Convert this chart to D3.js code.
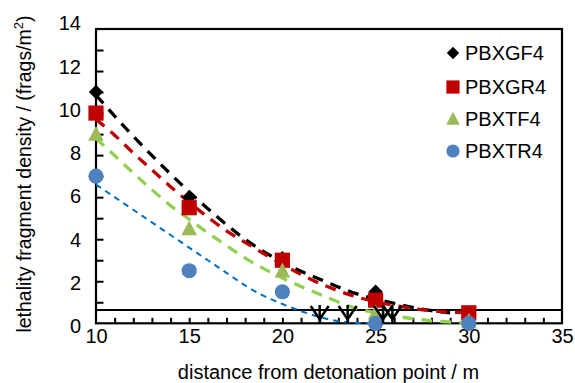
<!DOCTYPE html>
<html>
<head>
<meta charset="utf-8">
<script src="https://cdn.jsdelivr.net/npm/d3@7"></script>
<style>
  html, body { margin: 0; padding: 0; background: #fff; }
  svg { display: block; }
  text { font-family: "Liberation Sans", Arial, sans-serif; fill: #000; }
</style>
</head>
<body>
<svg id="chart" width="575" height="383"></svg>
<script>
// ---------- data ----------
const distances = [10, 15, 20, 25, 30];
const seriesNames = ["PBXGF4", "PBXGR4", "PBXTF4", "PBXTR4"];
const valuesGF4 = [11, 6, 3.1, 1.5, 0.5];
const valuesGR4 = [10, 5.5, 3.0, 1.1, 0.5];
const valuesTF4 = [9, 4.5, 2.5, 0.5, 0.1];
const valuesTR4 = [7, 2.5, 1.5, 0, 0];

// fitted trend curves [distance, density]
const fitGF4 = [[10,10.85],[12,8.9],[14,7.1],[16,5.45],[18,4.0],[20,2.9],[22,2.1],[24,1.4],[26,0.95],[28,0.6],[29,0.5]];
const fitGR4 = [[10,9.7],[11,8.95],[12,8.1],[13,7.3],[14,6.5],[15,5.75],[16,5.05],[17,4.4],[18,3.85],[20,2.8],[22,1.9],[24,1.25],[26,0.85],[28,0.6],[30,0.5]];
const fitTF4 = [[10,8.8],[11,7.98],[12,7.15],[13,6.35],[14,5.6],[15,4.95],[16,4.3],[17,3.7],[18,3.1],[19,2.6],[20,2.15],[22,1.38],[24,0.7],[26,0.35],[28,0.12],[30,0.02]];
const fitTR4 = [[10,6.6],[11,6.0],[12,5.4],[13,4.8],[14,4.2],[15,3.6],[16,3.0],[17,2.4],[18,1.8],[19,1.3],[20,0.92],[21,0.58],[22,0.3],[23,0.1],[24,0.02],[24.6,0]];

const thresholdDensity = 0.63;
const arrowDistances = [22, 23.5, 25.4, 25.9];

const xTicks = [10, 15, 20, 25, 30, 35];
const yTicks = [0, 2, 4, 6, 8, 10, 12, 14];

// ---------- layout ----------
const svg = d3.select("#chart");
const L = 96, R = 562, T = 29, B = 323.3;
const x = d3.scaleLinear().domain([10, 35]).range([L, R]);
const y = d3.scaleLinear().domain([0, 14]).range([B, T]);
// tick labels in the reference sit on a slightly wider spacing than the ticks
const yLabel = y.copy().range([B + 2.8, T - 5.6]);

const markerColor = ["#000000", "#C00000", "#9BBB59", "#4F81BD"];
const lineColor = ["#000000", "#C00000", "#92D050", "#0070C0"];
const series = [valuesGF4, valuesGR4, valuesTF4, valuesTR4];
const fits = [fitGF4, fitGR4, fitTF4, fitTR4];
const shapes = ["diamond", "square", "triangle", "circle"];

function shapePath(shape, s) {
  const p = d3.path();
  if (shape === "diamond") {
    p.moveTo(0, -s); p.lineTo(s, 0); p.lineTo(0, s); p.lineTo(-s, 0); p.closePath();
  } else if (shape === "square") {
    p.rect(-s, -s, 2 * s, 2 * s);
  } else if (shape === "triangle") {
    p.moveTo(0, -s * 1.05); p.lineTo(s, s * 0.85); p.lineTo(-s, s * 0.85); p.closePath();
  } else {
    p.arc(0, 0, s, 0, 2 * Math.PI);
  }
  return p.toString();
}
const markerSize = [7.2, 7.6, 7.8, 7.6];

// ---------- axes ----------
// inner minor ticks
svg.append("g")
  .attr("transform", `translate(0,${B})`)
  .call(d3.axisBottom(x).tickValues(d3.range(11, 35, 1)).tickSize(-5.5).tickFormat(""))
  .call(g => g.select(".domain").remove())
  .call(g => g.selectAll("line").attr("stroke", "#000").attr("stroke-width", 2));
svg.append("g")
  .attr("transform", `translate(${L},0)`)
  .call(d3.axisLeft(y).tickValues(d3.range(1, 14, 1)).tickSize(-7.5).tickFormat(""))
  .call(g => g.select(".domain").remove())
  .call(g => g.selectAll("line").attr("stroke", "#000").attr("stroke-width", 2));

// labels
svg.append("g")
  .attr("transform", `translate(0,${B})`)
  .call(d3.axisBottom(x).tickValues(xTicks).tickSize(0).tickPadding(5.5).tickFormat(d3.format("d")))
  .call(g => g.select(".domain").remove())
  .call(g => g.selectAll("text").attr("font-size", 20).attr("font-family", "Liberation Sans, Arial, sans-serif"));
svg.append("g")
  .attr("transform", `translate(${L},0)`)
  .call(d3.axisLeft(yLabel).tickValues(yTicks).tickSize(0).tickPadding(15).tickFormat(d3.format("d")))
  .call(g => g.select(".domain").remove())
  .call(g => g.selectAll("text").attr("font-size", 20).attr("font-family", "Liberation Sans, Arial, sans-serif"));

// frame
svg.append("rect")
  .attr("x", L).attr("y", T).attr("width", R - L).attr("height", B - T)
  .attr("fill", "none").attr("stroke", "#000").attr("stroke-width", 2.2);

// threshold line
svg.append("line")
  .attr("x1", x(10)).attr("x2", x(35))
  .attr("y1", y(thresholdDensity)).attr("y2", y(thresholdDensity))
  .attr("stroke", "#000").attr("stroke-width", 2);

// fitted curves
const line = d3.line().x(d => x(d[0])).y(d => y(d[1])).curve(d3.curveMonotoneX);
fits.forEach((f, i) => {
  svg.append("path")
    .attr("d", line(f))
    .attr("fill", "none")
    .attr("stroke", lineColor[i])
    .attr("stroke-width", i === 3 ? 2 : 3.3)
    .attr("stroke-dasharray", i === 3 ? "6,5" : "11,8");
});

// markers
series.forEach((vals, i) => {
  svg.append("g").selectAll("path")
    .data(vals.map((v, k) => [distances[k], v]))
    .join("path")
    .attr("transform", d => `translate(${x(d[0])},${y(d[1])})`)
    .attr("d", shapePath(shapes[i], markerSize[i]))
    .attr("fill", markerColor[i]);
});

// arrows
const arrows = svg.append("g").attr("stroke", "#000").attr("stroke-width", 2.5).attr("fill", "none");
arrowDistances.forEach(a => {
  const ax = x(a);
  arrows.append("line").attr("x1", ax).attr("x2", ax).attr("y1", y(thresholdDensity) - 5).attr("y2", B);
  arrows.append("path").attr("d", `M${ax - 9},${y(thresholdDensity) - 4} L${ax},${B - 4} L${ax + 9},${y(thresholdDensity) - 4}`);
});

// legend
const legendY = [53, 87, 119, 151];
seriesNames.forEach((name, i) => {
  svg.append("path")
    .attr("transform", `translate(453,${legendY[i]})`)
    .attr("d", shapePath(shapes[i], markerSize[i] - 1))
    .attr("fill", markerColor[i]);
  svg.append("text")
    .attr("x", 465).attr("y", legendY[i] + 7.2)
    .attr("font-size", 20)
    .text(name);
});

// axis titles
svg.append("text")
  .attr("x", 328.5).attr("y", 378.5)
  .attr("text-anchor", "middle")
  .attr("font-size", 20)
  .text("distance from detonation point / m");

const yt = svg.append("text")
  .attr("transform", "translate(31,174) rotate(-90)")
  .attr("text-anchor", "middle")
  .attr("font-size", 19.5);
yt.append("tspan").text("lethality fragment density / (frags/m");
yt.append("tspan").attr("font-size", 13).attr("dy", -8).text("2");
yt.append("tspan").attr("dy", 8).text(")");
</script>
</body>
</html>
